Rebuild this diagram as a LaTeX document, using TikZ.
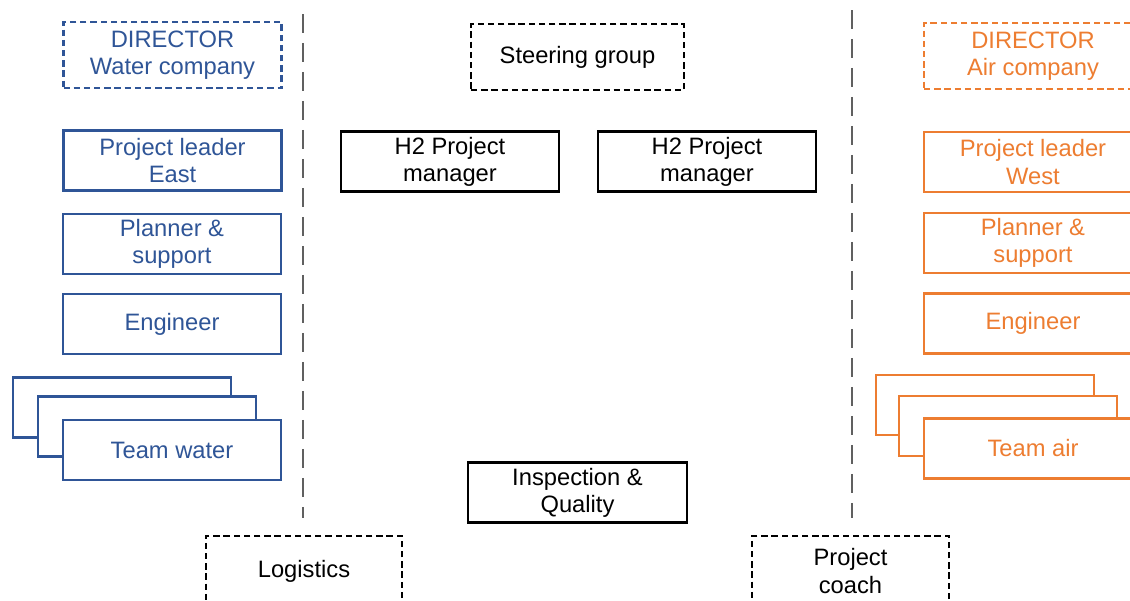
\documentclass[tikz,border=0pt]{standalone}
\usepackage{fontspec}
\setmainfont{Liberation Sans}
\usetikzlibrary{positioning}
\definecolor{waterblue}{HTML}{2F5597}
\definecolor{airorange}{HTML}{ED7D31}
\definecolor{sepgray}{HTML}{606060}
\tikzset{every picture/.style={line width=0.75pt}}
\tikzset{
  box/.style={draw, line width=1.2pt, align=center, inner sep=0pt, fill=white,
    minimum width=4.36cm, minimum height=1.2cm, font=\fontsize{13.5}{15.5}\selectfont},
  waterbox/.style={box, draw=waterblue, text=waterblue},
  airbox/.style={box, draw=airorange, text=airorange},
  dashbox/.style={dash pattern=on 3.6pt off 2.2pt},
  separator/.style={sepgray, line width=1.2pt, dash pattern=on 10.8pt off 5.7pt},
}

\begin{document}
\begin{tikzpicture}[x=0.02cm, y=-0.02cm]
    \useasboundingbox (0,0) rectangle (1130,600);
    \clip (0,0) rectangle (1130,600);

    % 分隔线
    \coordinate (sepL top) at (303,14);
    \coordinate (sepL bot) at (303,518);
    \coordinate (sepR top) at (852,10);
    \coordinate (sepR bot) at (852,518);
    \draw[separator] (sepL top) -- (sepL bot);
    \draw[separator] (sepR top) -- (sepR bot);

    % 左侧：水务公司
    \node[waterbox, dashbox, minimum height=1.32cm] (dirW) at (172.5,55) {DIRECTOR\\Water company};
    \node[waterbox] (leadE) at (172.5,160.5) {Project leader\\East};
    \node[waterbox] (planW) at (172,244) {Planner \&\\support};
    \node[waterbox] (engW) at (172,324) {Engineer};
    \node[waterbox] (teamW3) at (122,407.5) {};
    \node[waterbox] (teamW2) at (147,426.5) {};
    \node[waterbox] (teamW1) at (172,450) {Team water};

    % 中间
    \node[box, dashbox, minimum width=4.26cm, minimum height=1.32cm] (steer) at (577.5,57) {Steering group};
    \node[box] (pmA) at (450,161.5) {H2 Project\\manager};
    \node[box] (pmB) at (707,161.5) {H2 Project\\manager};
    \node[box, minimum width=4.38cm] (insp) at (577.5,492.5) {Inspection \&\\Quality};
    \node[box, dashbox, minimum width=3.92cm, minimum height=1.4cm] (logi) at (304,571) {Logistics};
    \node[box, dashbox, minimum width=3.94cm, minimum height=1.4cm] (coach) at (850.5,571) {Project\\coach};

    % 右侧：空气公司
    \node[airbox, dashbox, minimum height=1.32cm] (dirA) at (1033,56) {DIRECTOR\\Air company};
    \node[airbox] (leadW) at (1033,162) {Project leader\\West};
    \node[airbox] (planA) at (1033,243) {Planner \&\\support};
    \node[airbox] (engA) at (1033,323.5) {Engineer};
    \node[airbox] (teamA3) at (985,405) {};
    \node[airbox] (teamA2) at (1008,426) {};
    \node[airbox] (teamA1) at (1033,448.5) {Team air};
\end{tikzpicture}
\end{document}
